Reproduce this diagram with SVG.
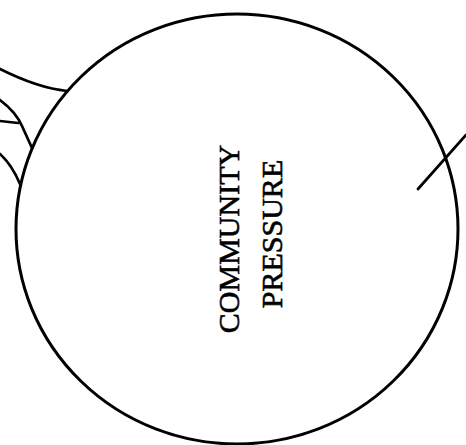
<svg xmlns="http://www.w3.org/2000/svg" width="466" height="445" viewBox="0 0 466 445">
<style>
.edge{fill:none;stroke:#000;stroke-width:2.7;stroke-linecap:round}
.node{fill:none;stroke:#000;stroke-width:3}
.lbl{font-family:"Liberation Serif","Times New Roman",serif;font-size:30px;fill:#000;stroke:#000;stroke-width:0.6;text-anchor:middle}
</style>
<rect width="466" height="445" fill="#fff"/>
<g id="connectors">
<path class="edge" d="M0,69 Q38,88 67,91"/>
<path class="edge" d="M0,100 Q16,112 22,126 L32,148"/>
<path class="edge" d="M0,121 L18,123"/>
<path class="edge" d="M0,154 Q12,165 20,184"/>
<path class="edge" d="M418,189 L466,135"/>
</g>
<g id="community-pressure">
<ellipse class="node" cx="237" cy="229" rx="221" ry="215"/>
<text class="lbl" transform="translate(239,239) rotate(-90)">COMMUNITY</text>
<text class="lbl" transform="translate(282,234) rotate(-90)">PRESSURE</text>
</g>
</svg>
